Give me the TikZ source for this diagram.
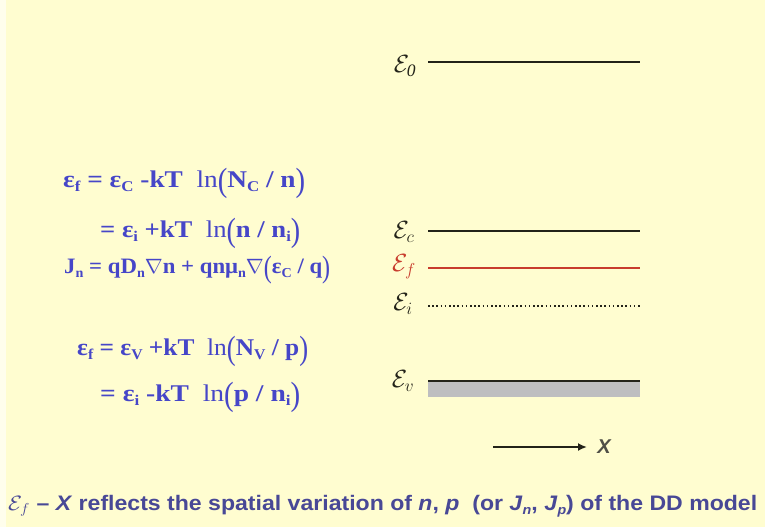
\documentclass[tikz,border=0pt]{standalone}
\usepackage{fontspec}
\usepackage{graphicx}
\usetikzlibrary{arrows.meta}
\setmainfont{Liberation Serif}
\newfontfamily\sansf{Liberation Sans}
\definecolor{bgyellow}{RGB}{255,253,208}
\definecolor{eqblue}{RGB}{70,70,200}
\definecolor{txtblue}{RGB}{72,72,150}
\definecolor{levelcol}{RGB}{35,35,25}
\definecolor{fermired}{RGB}{200,60,45}
\definecolor{bandgray}{RGB}{190,190,192}
\newcommand{\lsub}[1]{\raisebox{-0.35ex}{\scalebox{0.62}{#1}}}
\newcommand{\bigp}[1]{{\mdseries\raisebox{-0.35ex}{\scalebox{1.05}[1.4]{#1}}}}
\newcommand{\lnop}{{\mdseries ln}}
\newcommand{\eqbox}[2]{\resizebox{#1}{\height}{#2}}
\tikzset{
  level/.style={line width=2.6pt, levelcol},
  lab/.style={font=\fontsize{25}{27}\selectfont, text=levelcol, inner sep=0pt},
  eq/.style={anchor=west, font=\fontsize{24}{28}\selectfont\bfseries, text=eqblue, inner sep=0pt},
}
\begin{document}
\begin{tikzpicture}[x=1pt,y=-1pt]
\fill[bgyellow] (0,0) rectangle (765,527);
\fill[white!60!bgyellow] (0,0) rectangle (6,527);
\useasboundingbox (0,0) rectangle (765,527);

% energy levels
\node[lab] (l0) at (405,66) {$\mathcal{E}_{\mathit{0}}$};
\coordinate (e0a) at (428,62); \coordinate (e0b) at (640,62);
\draw[level] (e0a) -- (e0b);

\node[lab] (lc) at (404,232) {$\mathcal{E}_{c}$};
\coordinate (eca) at (428,231); \coordinate (ecb) at (640,231);
\draw[level] (eca) -- (ecb);

\node[lab, text=fermired] (lf) at (404,267) {$\mathcal{E}_{f}$};
\coordinate (efa) at (428,268); \coordinate (efb) at (640,268);
\draw[line width=1.6pt, fermired] (efa) -- (efb);

\node[lab] (li) at (403,304) {$\mathcal{E}_{i}$};
\coordinate (eia) at (428,306); \coordinate (eib) at (640,306);
\draw[line width=2pt, levelcol, dash pattern=on 1.6pt off 2.6pt] (eia) -- (eib);

\node[lab] (lv) at (403,381) {$\mathcal{E}_{v}$};
\fill[bandgray] (428,382) rectangle (640,397);
\coordinate (eva) at (428,381); \coordinate (evb) at (640,381);
\draw[level] (eva) -- (evb);

% x arrow
\coordinate (xa) at (493,447);
\node[font=\sansf\bfseries\itshape\fontsize{20}{24}\selectfont, text=levelcol!80!white, inner sep=0pt] (X) at (604,447) {X};
\coordinate (xb) at (587,447);
\draw[line width=1.8pt, levelcol, -{Latex[length=9pt,width=8pt]}] (xa) -- (xb);

% equations
\node[eq] (q1) at (63,183) {\eqbox{242pt}{ε\lsub{f} = ε\lsub{C} -kT\ \ \lnop\bigp{(}N\lsub{C} / n\bigp{)}}};
\node[eq] (q2) at (100,233) {\eqbox{200pt}{= ε\lsub{i} +kT\ \ \lnop\bigp{(}n / n\lsub{i}\bigp{)}}};
\node[eq, font=\fontsize{22}{26}\selectfont\bfseries] (q3) at (64,270) {\eqbox{266pt}{J\lsub{n} = qD\lsub{n}$\nabla$n + qnμ\lsub{n}$\nabla$\bigp{(}ε\lsub{C} / q\bigp{)}}};
\node[eq] (q4) at (77,351) {\eqbox{231pt}{ε\lsub{f} = ε\lsub{V} +kT\ \ \lnop\bigp{(}N\lsub{V} / p\bigp{)}}};
\node[eq] (q5) at (100,397) {\eqbox{200pt}{= ε\lsub{i} -kT\ \ \lnop\bigp{(}p / n\lsub{i}\bigp{)}}};

% bottom text
\node[anchor=west, inner sep=0pt, text=txtblue] (bt) at (8,506) {\resizebox{749pt}{\height}{\fontsize{21}{24}\selectfont\sansf\bfseries $\mathcal{E}_{f}$ – \textit{X} reflects the spatial variation of \textit{n}, \textit{p}\ \ (or \textit{J}\lsub{\textit{n}}, \textit{J}\lsub{\textit{p}}) of the DD model}};
\end{tikzpicture}
\end{document}
